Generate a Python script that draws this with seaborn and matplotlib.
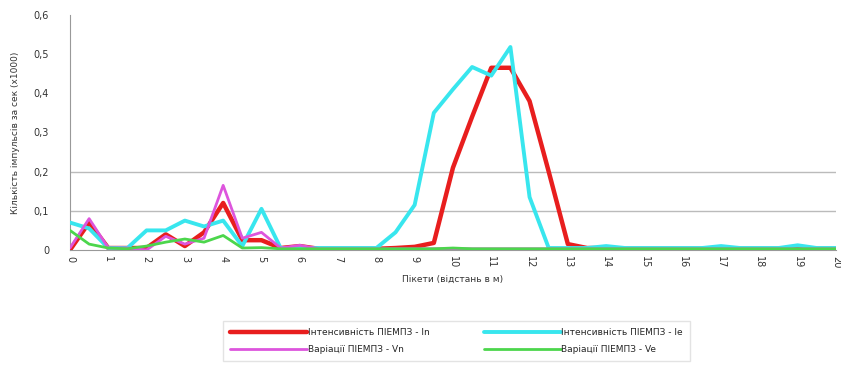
import matplotlib
matplotlib.use("Agg")
import matplotlib.pyplot as plt
import seaborn as sns
import pandas as pd

positions = [0, 0.5, 1, 1.5, 2, 2.5, 3, 3.5, 4, 4.5, 5, 5.5, 6, 6.5, 7, 7.5, 8, 8.5, 9, 9.5,
             10, 10.5, 11, 11.5, 12, 12.5, 13, 13.5, 14, 14.5, 15, 15.5, 16, 16.5, 17, 17.5,
             18, 18.5, 19, 19.5, 20]

intensity_n = [0, 0.07, 0.005, 0.005, 0.005, 0.04, 0.01, 0.045, 0.12, 0.025, 0.025, 0.005, 0.01,
               0.003, 0.003, 0.003, 0.003, 0.005, 0.008, 0.018, 0.21, 0.34, 0.465, 0.465, 0.38,
               0.2, 0.015, 0.005, 0.005, 0.003, 0.003, 0.003, 0.003, 0.003, 0.003, 0.003,
               0.003, 0.003, 0.003, 0.003, 0.003]
intensity_e = [0.07, 0.055, 0.005, 0.005, 0.05, 0.05, 0.075, 0.06, 0.075, 0.01, 0.105, 0.005, 0.005,
               0.005, 0.005, 0.005, 0.005, 0.045, 0.115, 0.35, 0.41, 0.467, 0.445, 0.518, 0.135,
               0.005, 0.005, 0.005, 0.01, 0.005, 0.005, 0.005, 0.005, 0.005, 0.01, 0.005,
               0.005, 0.005, 0.012, 0.005, 0.005]
variation_n = [0.005, 0.08, 0.005, 0.005, 0.0, 0.035, 0.015, 0.03, 0.165, 0.03, 0.045, 0.005, 0.012,
               0.003, 0.003, 0.003, 0.003, 0.003, 0.003, 0.003, 0.003, 0.003, 0.003, 0.003, 0.003,
               0.003, 0.003, 0.003, 0.003, 0.003, 0.003, 0.003, 0.003, 0.003, 0.003, 0.003,
               0.003, 0.003, 0.003, 0.003, 0.003]
variation_e = [0.05, 0.015, 0.005, 0.003, 0.01, 0.02, 0.028, 0.02, 0.037, 0.005, 0.006, 0.003, 0.003,
               0.003, 0.003, 0.003, 0.003, 0.003, 0.003, 0.003, 0.005, 0.003, 0.003, 0.003, 0.003,
               0.003, 0.003, 0.003, 0.003, 0.003, 0.003, 0.003, 0.003, 0.003, 0.003, 0.003,
               0.003, 0.003, 0.003, 0.003, 0.003]

series_names = ["Інтенсивність ПІЕМПЗ - In", "Інтенсивність ПІЕМПЗ - Ie",
                "Варіації ПІЕМПЗ - Vn", "Варіації ПІЕМПЗ - Ve"]
series_values = [intensity_n, intensity_e, variation_n, variation_e]
colors = ["#e81e1e", "#38e6ee", "#dd55dd", "#4cd64c"]
widths = [3.2, 2.8, 2.0, 2.0]

x_ticks = list(range(0, 21))
y_ticks = [0, 0.1, 0.2, 0.3, 0.4, 0.5, 0.6]
y_tick_labels = ["0", "0,1", "0,2", "0,3", "0,4", "0,5", "0,6"]

rows = []
for name, vals in zip(series_names, series_values):
    for p, v in zip(positions, vals):
        rows.append({"x": p, "y": v, "series": name})
df = pd.DataFrame(rows)

sns.set_style("white")
plt.rcParams['font.family'] = ['DejaVu Sans']

fig = plt.figure(figsize=(8.41, 3.72), dpi=100)
ax = fig.add_axes([0.0832, 0.328, 0.9108, 0.632])

for gy in [0.1, 0.2]:
    ax.axhline(gy, color="#bbbbbb", lw=1.0, zorder=0)

# draw in an order so that red sits above magenta and cyan above green
draw_order = [2, 3, 0, 1]
for i in draw_order:
    sub = df[df["series"] == series_names[i]]
    sns.lineplot(data=sub, x="x", y="y", ax=ax, color=colors[i], lw=widths[i],
                 label=series_names[i], zorder=3 + i)

ax.set_xlim(0, 20)
ax.set_ylim(0, 0.6)
ax.set_xticks(x_ticks)
ax.set_xticklabels([str(t) for t in x_ticks], rotation=270, fontsize=7, color="#333333")
ax.set_yticks(y_ticks)
ax.set_yticklabels(y_tick_labels, fontsize=7, color="#333333")
ax.tick_params(axis="y", length=3, color="#999999", pad=12)
ax.tick_params(axis="x", length=0, pad=4)
for s in ["top", "right"]:
    ax.spines[s].set_visible(False)
ax.spines["left"].set_color("#999999")
ax.spines["bottom"].set_color("#999999")
ax.set_xlabel("Пікети (відстань в м)", fontsize=6.5, color="#333333", labelpad=5)
ax.set_ylabel("Кількість імпульсів за сек (х1000)", fontsize=6.5, color="#333333", labelpad=10)

handles, labels = ax.get_legend_handles_labels()
legend_order = [series_names[0], series_names[2], series_names[1], series_names[3]]
order = [labels.index(n) for n in legend_order]
ax.legend([handles[k] for k in order], [labels[k] for k in order], ncol=2,
          loc="center", bbox_to_anchor=(0.543, 0.083), bbox_transform=fig.transFigure,
          fontsize=6.5, handlelength=8.5, handletextpad=0.1, columnspacing=6.0,
          frameon=True, fancybox=False, edgecolor="#dddddd", borderpad=0.8, labelspacing=0.9)

fig.savefig("out.png", dpi=100)
